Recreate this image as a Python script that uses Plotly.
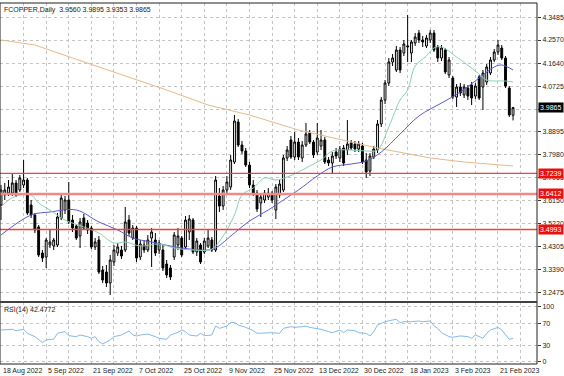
import plotly.graph_objects as go

# ---------------- data ----------------
date_labels = ["18 Aug 2022", "5 Sep 2022", "21 Sep 2022", "7 Oct 2022", "25 Oct 2022",
               "9 Nov 2022", "25 Nov 2022", "13 Dec 2022", "30 Dec 2022", "18 Jan 2023",
               "3 Feb 2023", "21 Feb 2023"]
date_bars = [0, 12, 24, 36, 48, 60, 72, 84, 96, 108, 120, 132]

opens = [3.597, 3.637, 3.645, 3.645, 3.685, 3.657, 3.677, 3.697, 3.597, 3.557,
         3.509, 3.405, 3.389, 3.437, 3.433, 3.437, 3.545, 3.577, 3.617, 3.537,
         3.513, 3.473, 3.545, 3.525, 3.505, 3.429, 3.457, 3.337, 3.329, 3.285,
         3.369, 3.405, 3.417, 3.417, 3.537, 3.465, 3.505, 3.389, 3.437, 3.417,
         3.465, 3.457, 3.417, 3.417, 3.361, 3.345, 3.389, 3.437, 3.465, 3.429,
         3.489, 3.537, 3.409, 3.437, 3.409, 3.433, 3.457, 3.417, 3.633, 3.593,
         3.657, 3.669, 3.769, 3.929, 3.837, 3.813, 3.757, 3.677, 3.645, 3.605,
         3.617, 3.629, 3.645, 3.577, 3.637, 3.657, 3.785, 3.857, 3.789, 3.849,
         3.785, 3.837, 3.885, 3.849, 3.809, 3.833, 3.857, 3.777, 3.765, 3.809,
         3.785, 3.825, 3.817, 3.845, 3.841, 3.821, 3.833, 3.777, 3.733, 3.789,
         3.817, 3.921, 4.017, 4.085, 4.169, 4.137, 4.217, 4.205, 4.229, 4.205,
         4.245, 4.285, 4.257, 4.233, 4.257, 4.285, 4.229, 4.185, 4.217, 4.117,
         4.105, 4.029, 4.069, 4.037, 4.065, 4.077, 4.033, 4.109, 4.069, 4.089,
         4.125, 4.177, 4.209, 4.225, 4.185, 4.065, 3.956]
highs = [3.677, 3.685, 3.697, 3.725, 3.697, 3.717, 3.777, 3.705, 3.617, 3.565,
         3.517, 3.417, 3.465, 3.497, 3.465, 3.565, 3.637, 3.633, 3.689, 3.557,
         3.521, 3.545, 3.561, 3.537, 3.513, 3.465, 3.473, 3.353, 3.357, 3.397,
         3.437, 3.445, 3.433, 3.589, 3.557, 3.517, 3.513, 3.457, 3.457, 3.477,
         3.505, 3.485, 3.457, 3.437, 3.377, 3.357, 3.489, 3.505, 3.473, 3.553,
         3.557, 3.545, 3.465, 3.445, 3.465, 3.497, 3.469, 3.713, 3.665, 3.673,
         3.713, 3.797, 3.957, 3.941, 3.853, 3.825, 3.769, 3.697, 3.657, 3.641,
         3.657, 3.665, 3.653, 3.681, 3.697, 3.797, 3.833, 3.873, 3.889, 3.865,
         3.853, 3.925, 3.897, 3.857, 3.925, 3.897, 3.869, 3.789, 3.809, 3.825,
         3.833, 3.837, 3.937, 3.857, 3.853, 3.853, 3.845, 3.805, 3.805, 3.833,
         3.937, 4.029, 4.097, 4.185, 4.201, 4.233, 4.229, 4.257, 4.357, 4.257,
         4.285, 4.297, 4.273, 4.277, 4.297, 4.297, 4.237, 4.237, 4.225, 4.189,
         4.113, 4.081, 4.085, 4.081, 4.077, 4.089, 4.085, 4.117, 4.137, 4.161,
         4.189, 4.221, 4.257, 4.237, 4.193, 4.073, 3.9895]
lows = [3.537, 3.617, 3.633, 3.633, 3.629, 3.649, 3.665, 3.557, 3.545, 3.485,
        3.389, 3.369, 3.345, 3.425, 3.417, 3.429, 3.537, 3.561, 3.521, 3.489,
        3.457, 3.425, 3.497, 3.481, 3.421, 3.417, 3.321, 3.285, 3.269, 3.237,
        3.353, 3.393, 3.381, 3.409, 3.473, 3.457, 3.369, 3.377, 3.405, 3.409,
        3.349, 3.393, 3.401, 3.333, 3.305, 3.297, 3.377, 3.417, 3.389, 3.421,
        3.457, 3.401, 3.393, 3.361, 3.401, 3.425, 3.409, 3.409, 3.569, 3.577,
        3.641, 3.657, 3.761, 3.829, 3.801, 3.749, 3.665, 3.633, 3.569, 3.549,
        3.605, 3.617, 3.605, 3.541, 3.625, 3.649, 3.773, 3.781, 3.777, 3.777,
        3.769, 3.829, 3.841, 3.785, 3.797, 3.817, 3.761, 3.753, 3.725, 3.781,
        3.769, 3.753, 3.797, 3.817, 3.809, 3.809, 3.761, 3.705, 3.713, 3.781,
        3.805, 3.909, 4.001, 4.073, 4.153, 4.129, 4.125, 4.193, 4.169, 4.169,
        4.233, 4.245, 4.229, 4.225, 4.245, 4.209, 4.169, 4.173, 4.121, 4.105,
        4.021, 3.989, 4.033, 4.025, 4.017, 3.997, 4.021, 4.017, 3.977, 4.077,
        4.117, 4.169, 4.197, 4.177, 4.065, 3.949, 3.9353]
closes = [3.657, 3.657, 3.669, 3.685, 3.637, 3.705, 3.697, 3.565, 3.557, 3.497,
          3.397, 3.385, 3.457, 3.449, 3.457, 3.549, 3.625, 3.617, 3.529, 3.505,
          3.465, 3.529, 3.505, 3.497, 3.429, 3.449, 3.329, 3.297, 3.285, 3.377,
          3.417, 3.429, 3.393, 3.529, 3.485, 3.505, 3.385, 3.441, 3.417, 3.457,
          3.489, 3.405, 3.445, 3.345, 3.317, 3.309, 3.477, 3.473, 3.397, 3.537,
          3.541, 3.409, 3.453, 3.369, 3.453, 3.465, 3.417, 3.697, 3.593, 3.657,
          3.689, 3.777, 3.933, 3.837, 3.813, 3.757, 3.677, 3.645, 3.581, 3.629,
          3.645, 3.645, 3.617, 3.669, 3.681, 3.785, 3.817, 3.789, 3.849, 3.789,
          3.837, 3.881, 3.849, 3.797, 3.865, 3.857, 3.769, 3.765, 3.793, 3.793,
          3.821, 3.765, 3.841, 3.825, 3.821, 3.841, 3.769, 3.729, 3.793, 3.821,
          3.921, 4.017, 4.085, 4.169, 4.185, 4.217, 4.137, 4.241, 4.233, 4.249,
          4.269, 4.257, 4.249, 4.265, 4.285, 4.217, 4.185, 4.225, 4.129, 4.177,
          4.029, 4.069, 4.045, 4.069, 4.033, 4.025, 4.073, 4.025, 4.125, 4.149,
          4.177, 4.209, 4.237, 4.185, 4.073, 3.957, 3.9865]
bars = list(range(len(closes)))

# moving averages (bar index, value)
ma_fast_bar = [0, 2, 5, 8, 10, 13, 17, 22, 26, 30, 33, 37, 42, 46, 51, 56, 59, 62, 64, 67,
               70, 73, 76, 79, 82, 85, 88, 93, 97, 100, 103, 106, 108, 110, 113, 115, 117,
               121, 126, 129, 132, 134, 136]
ma_fast_val = [3.589, 3.617, 3.637, 3.637, 3.605, 3.577, 3.537, 3.509, 3.485, 3.445, 3.449,
               3.433, 3.441, 3.425, 3.417, 3.421, 3.473, 3.557, 3.637, 3.665, 3.705, 3.697,
               3.709, 3.729, 3.753, 3.777, 3.813, 3.817, 3.813, 3.817, 3.909, 4.017, 4.057,
               4.153, 4.193, 4.225, 4.229, 4.189, 4.133, 4.097, 4.093, 4.093, 4.089]
ma_mid_bar = [0, 8, 13, 20, 26, 31, 35, 40, 48, 55, 57, 62, 66, 71, 75, 79, 84, 88, 93, 97,
              101, 106, 111, 117, 122, 127, 131, 133, 136]
ma_mid_val = [3.477, 3.557, 3.569, 3.577, 3.529, 3.497, 3.465, 3.449, 3.425, 3.417, 3.425,
              3.485, 3.533, 3.577, 3.617, 3.657, 3.713, 3.749, 3.761, 3.773, 3.809, 3.881,
              3.953, 4.005, 4.049, 4.105, 4.149, 4.157, 4.137]
ma_slow_bar = [0, 9, 19, 44, 55, 66, 79, 93, 100, 114, 123, 136]
ma_slow_val = [4.257, 4.237, 4.185, 4.057, 3.997, 3.957, 3.897, 3.849, 3.825, 3.785, 3.769, 3.753]

rsi_bar = [0, 3, 4, 6, 7, 9, 11, 12, 13, 14, 15, 17, 18, 20, 21, 23, 24, 25, 26, 27, 29, 30,
           32, 34, 35, 36, 37, 39, 41, 42, 44, 45, 47, 48, 49, 50, 52, 53, 54, 56, 57, 58, 60,
           61, 62, 63, 65, 67, 68, 70, 72, 74, 75, 77, 78, 80, 81, 82, 84, 85, 87, 88, 90, 91,
           92, 94, 95, 97, 98, 99, 100, 102, 104, 105, 106, 107, 109, 111, 112, 114, 115, 116,
           117, 119, 120, 121, 122, 124, 125, 126, 128, 129, 130, 132, 133, 134, 135, 136]
rsi_val = [57.6, 58.9, 56.4, 58.9, 51.6, 45.5, 34.6, 39.5, 40.7, 40.7, 51.6, 54.6, 47.3, 45.5,
           48.5, 45.5, 42.5, 45.5, 36.4, 32.2, 39.5, 45.5, 48.5, 55.8, 48.5, 46.7, 48.5, 50.3,
           45.5, 42.5, 40.7, 48.5, 53.3, 57.6, 54.6, 48.5, 46.7, 51.6, 47.3, 48.5, 64.8, 60.6,
           64.8, 70.9, 71.5, 66.7, 62.4, 56.4, 51.6, 52.7, 52.7, 51.6, 60.6, 63.6, 62.4, 63.6,
           64.8, 62.4, 60.6, 58.8, 54.6, 52.7, 57.6, 52.7, 57.6, 56.4, 52.7, 51.6, 46.7, 54.6,
           66.7, 72.7, 75.8, 77.0, 70.9, 72.7, 72.7, 73.9, 72.7, 73.9, 65.0, 60.6, 52.7, 45.5,
           44.4, 45.6, 46.8, 45.6, 42.6, 48.7, 42.6, 51.6, 57.6, 62.4, 57.6, 49.0, 40.5, 42.4772]

price_ticks = [4.3485, 4.2570, 4.1640, 4.0725, 3.9810, 3.8895, 3.7980, 3.7065, 3.6150,
               3.5220, 3.4305, 3.3390, 3.2475]
price_tick_text = ["4.3485", "4.2570", "4.1640", "4.0725", "", "3.8895", "3.7980", "3.7065",
                   "3.6150", "3.5220", "3.4305", "3.3390", "3.2475"]
rsi_ticks = [0, 30, 70, 100]
level_values = [3.7239, 3.6412, 3.4993]
level_labels = ["3.7239", "3.6412", "3.4993"]
last_price = 3.9865
title_text = "FCOPPER,Daily  3.9560 3.9895 3.9353 3.9865"
rsi_title = "RSI(14) 42.4772"

# ---------------- figure ----------------
FONT = "Liberation Sans, Arial, sans-serif"
GRID = "#c4c4c4"
split = (364 - 302) / 361.0

fig = go.Figure()
fig.add_trace(go.Scatter(x=ma_slow_bar, y=ma_slow_val, mode="lines",
                         line=dict(color="#e2b98e", width=1), xaxis="x", yaxis="y",
                         hoverinfo="skip", showlegend=False))
fig.add_trace(go.Scatter(x=ma_mid_bar, y=ma_mid_val, mode="lines", line_shape="spline",
                         line=dict(color="#5a5ad2", width=1), xaxis="x", yaxis="y",
                         hoverinfo="skip", showlegend=False))
fig.add_trace(go.Scatter(x=ma_fast_bar, y=ma_fast_val, mode="lines", line_shape="spline",
                         line=dict(color="#8ccfb0", width=1), xaxis="x", yaxis="y",
                         hoverinfo="skip", showlegend=False))
fig.add_trace(go.Candlestick(x=bars, open=opens, high=highs, low=lows, close=closes,
                             increasing=dict(line=dict(color="black", width=1), fillcolor="white"),
                             decreasing=dict(line=dict(color="black", width=1), fillcolor="black"),
                             whiskerwidth=0, xaxis="x", yaxis="y", showlegend=False))
fig.add_trace(go.Scatter(x=rsi_bar, y=rsi_val, mode="lines",
                         line=dict(color="#86b9e6", width=1), xaxis="x2", yaxis="y2",
                         hoverinfo="skip", showlegend=False))

grid_vals = list(range(0, 142, 6))
xcommon = dict(range=[-0.266, 142.36], tickvals=grid_vals, showticklabels=False,
               showgrid=True, gridcolor=GRID, griddash="dot", gridwidth=1,
               zeroline=False, showline=False, ticks="")

fig.update_layout(
    width=564, height=376,
    margin=dict(l=0, r=27, t=3, b=12),
    paper_bgcolor="white", plot_bgcolor="white",
    font=dict(family=FONT, size=7, color="#1a1a1a"),
    xaxis=dict(domain=[0, 1], anchor="y", rangeslider=dict(visible=False), **xcommon),
    xaxis2=dict(domain=[0, 1], anchor="y2", matches="x", **xcommon),
    yaxis=dict(domain=[split, 1], range=[3.209, 4.405], side="right",
               tickvals=price_ticks, ticktext=price_tick_text,
               ticks="outside", ticklen=3, tickcolor="#333333",
               showgrid=True, gridcolor=GRID, griddash="dot", gridwidth=1,
               zeroline=False, showline=False, tickfont=dict(size=7)),
    yaxis2=dict(domain=[0, split], range=[-4.2, 108.5], side="right",
                tickvals=rsi_ticks, ticks="outside", ticklen=3, tickcolor="#333333",
                showgrid=True, gridcolor=GRID, griddash="dot", gridwidth=1,
                zeroline=False, showline=False, tickfont=dict(size=7)),
    hovermode=False,
)

shapes = []
level_styles = [dict(color="#e8453e", width=1.3), dict(color="#f28a84", width=2.4),
                dict(color="#e8453e", width=1.6)]
for v, st in zip(level_values, level_styles):
    shapes.append(dict(type="line", xref="paper", x0=0, x1=1, yref="y", y0=v, y1=v,
                       line=st, layer="above"))
shapes.append(dict(type="rect", xref="paper", yref="paper", x0=0, x1=1, y0=0, y1=1,
                   line=dict(color="#202020", width=1)))
shapes.append(dict(type="line", xref="paper", yref="paper", x0=0, x1=1, y0=split, y1=split,
                   line=dict(color="#404040", width=2)))
fig.update_layout(shapes=shapes)

ann = []
for v, t in zip(level_values, level_labels):
    ann.append(dict(x=1, xref="paper", xanchor="left", xshift=1, y=v, yref="y",
                    text=t, showarrow=False, bgcolor="#e8100c",
                    font=dict(color="white", size=7), borderpad=1))
ann.append(dict(x=1, xref="paper", xanchor="left", xshift=1, y=last_price, yref="y",
                text="3.9865", showarrow=False, bgcolor="#000000",
                font=dict(color="white", size=7), borderpad=1))
for b, t in zip(date_bars, date_labels):
    ann.append(dict(x=b, xref="x2", xanchor="left", xshift=0, y=0, yref="paper",
                    yanchor="top", yshift=-1, text=t, showarrow=False,
                    font=dict(size=7)))
ann.append(dict(x=0, xref="paper", xanchor="left", xshift=2, y=1, yref="paper",
                yanchor="top", yshift=-1, text=title_text, showarrow=False,
                font=dict(size=7)))
ann.append(dict(x=0, xref="paper", xanchor="left", xshift=2, y=split, yref="paper",
                yanchor="top", yshift=-2, text=rsi_title, showarrow=False,
                font=dict(size=7)))
fig.update_layout(annotations=ann)

fig.write_html(
    "out.html",
    config={"displayModeBar": False, "staticPlot": True},
    post_script="document.body.style.margin='0';document.body.style.padding='0';"
                "document.documentElement.style.overflow='hidden';",
)
